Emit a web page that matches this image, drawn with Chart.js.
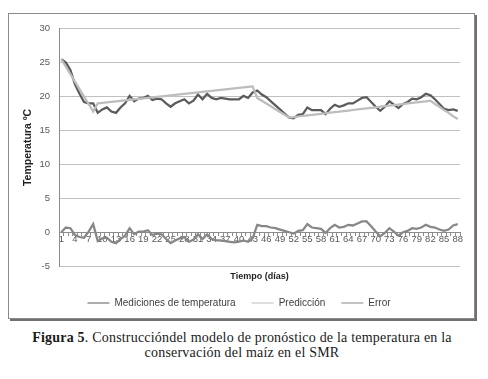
<!DOCTYPE html>
<html>
<head>
<meta charset="utf-8">
<script src="https://cdn.jsdelivr.net/npm/chart.js@4"></script>
<style>
  body { margin: 0; background: #fff; width: 488px; height: 379px; position: relative; overflow: hidden; }
  #box { position: absolute; left: 8px; top: 13px; width: 465px; height: 304px; border: 1px solid #8a8a8a; box-shadow: 2px 2px 0 #707070; background: #fff; }
  #caption { position: absolute; left: 0; top: 330px; width: 484px; text-align: center; font-family: "Liberation Serif", serif; font-size: 14px; letter-spacing: 0.2px; line-height: 15px; color: #1a1a1a; }
</style>
</head>
<body>
<div id="box"><canvas id="grafico" width="465" height="304"></canvas></div>
<div id="caption"><b>Figura 5</b>. Construccióndel modelo de pronóstico de la temperatura en la<br>conservación del maíz en el SMR</div>
<script>
// dias (eje x)
const dias = [1, 2, 3, 4, 5, 6, 7, 8, 9, 10, 11, 12, 13, 14, 15, 16, 17, 18, 19, 20, 21, 22,
  23, 24, 25, 26, 27, 28, 29, 30, 31, 32, 33, 34, 35, 36, 37, 38, 39, 40, 41, 42, 43, 44,
  45, 46, 47, 48, 49, 50, 51, 52, 53, 54, 55, 56, 57, 58, 59, 60, 61, 62, 63, 64, 65, 66,
  67, 68, 69, 70, 71, 72, 73, 74, 75, 76, 77, 78, 79, 80, 81, 82, 83, 84, 85, 86, 87, 88];

const mediciones = [
  25.5, 25.0, 23.9, 21.8, 20.4, 19.2, 19.0, 19.0, 17.6, 18.1,
  18.4, 17.8, 17.6, 18.4, 19.0, 20.1, 19.3, 19.7, 19.8, 20.1,
  19.5, 19.7, 19.6, 19.0, 18.5, 19.0, 19.3, 19.6, 19.0, 19.4,
  20.3, 19.6, 20.4, 19.8, 19.6, 19.8, 19.7, 19.6, 19.6, 19.6,
  20.1, 19.8, 20.6, 20.9, 20.3, 19.9, 19.3, 18.7, 18.1, 17.5,
  16.9, 16.8, 17.3, 17.4, 18.4, 18.0, 18.0, 18.0, 17.4, 18.2,
  18.8, 18.5, 18.7, 19.0, 19.0, 19.4, 19.8, 19.9, 19.2, 18.5,
  17.9, 18.5, 19.3, 18.8, 18.3, 18.9, 19.2, 19.7, 19.6, 19.9,
  20.4, 20.2, 19.6, 18.9, 18.2, 18.0, 18.1, 17.9
];

const prediccion = [
  25.5, 24.4, 23.3, 22.2, 21.1, 20.0, 18.9, 17.8, 19.00, 19.07,
  19.15, 19.22, 19.29, 19.37, 19.44, 19.51, 19.59, 19.66, 19.74, 19.81,
  19.88, 19.96, 20.03, 20.10, 20.18, 20.25, 20.32, 20.40, 20.47, 20.54,
  20.62, 20.69, 20.76, 20.84, 20.91, 20.99, 21.06, 21.13, 21.21, 21.28,
  21.35, 21.43, 21.50, 19.80, 19.39, 18.97, 18.56, 18.14, 17.73, 17.31,
  16.90, 16.98, 17.06, 17.14, 17.22, 17.30, 17.38, 17.46, 17.54, 17.62,
  17.70, 17.78, 17.86, 17.94, 18.02, 18.10, 18.18, 18.26, 18.34, 18.42,
  18.50, 18.58, 18.66, 18.74, 18.82, 18.90, 18.98, 19.06, 19.14, 19.22,
  19.30, 19.40, 18.90, 18.50, 18.00, 17.60, 17.10, 16.70
];

const error = [
  0.0, 0.7, 0.6, -0.4, -0.7, -0.8, 0.1, 1.2, -1.3, -0.9,
  -0.8, -1.4, -1.6, -1.0, -0.5, 0.6, -0.3, 0.1, 0.1, 0.3,
  -0.4, -0.2, -0.3, -1.0, -1.6, -1.2, -0.9, -0.7, -1.4, -1.1,
  -0.3, -1.0, -0.3, -1.0, -1.2, -1.2, -1.3, -1.4, -1.5, -1.4,
  -1.2, -1.4, -0.9, 1.1, 0.9, 0.9, 0.7, 0.6, 0.4, 0.2,
  0.0, -0.2, 0.2, 0.3, 1.2, 0.7, 0.6, 0.5, -0.1, 0.6,
  1.1, 0.7, 0.8, 1.1, 1.0, 1.3, 1.6, 1.6, 0.9, 0.1,
  -0.6, -0.1, 0.6, 0.1, -0.5, 0.0, 0.2, 0.6, 0.5, 0.7,
  1.1, 0.8, 0.7, 0.4, 0.2, 0.4, 1.0, 1.2
];

const fuente = 'Liberation Sans';
const grisTexto = '#595959';

const ctx = document.getElementById('grafico');
new Chart(ctx, {
  type: 'line',
  data: {
    labels: dias,
    datasets: [
      { label: 'Mediciones de temperatura', data: mediciones, borderColor: '#5b5b5b', backgroundColor: '#5b5b5b', order: 3 },
      { label: 'Predicción', data: prediccion, borderColor: '#bdbdbd', backgroundColor: '#bdbdbd', order: 2 },
      { label: 'Error', data: error, borderColor: '#878787', backgroundColor: '#878787', order: 1 }
    ]
  },
  options: {
    responsive: false,
    animation: false,
    layout: { padding: { left: 9, right: 14, top: 8, bottom: 0 } },
    elements: {
      point: { radius: 0 },
      line: { borderWidth: 2.25, tension: 0 }
    },
    scales: {
      x: {
        position: { y: 0 }, // eje horizontal cruza en 0
        offset: true,
        grid: { drawOnChartArea: false, drawTicks: true, tickLength: 3, color: '#8c8c8c', offset: true },
        border: { color: '#8c8c8c' },
        ticks: {
          autoSkip: false,
          maxRotation: 0,
          padding: -2,
          color: grisTexto,
          font: { family: fuente, size: 9.5 },
          callback: function (value, index) {
            return index % 3 === 0 ? this.getLabelForValue(value) : '';
          }
        }
      },
      y: {
        min: -5,
        max: 30,
        ticks: { stepSize: 5, padding: 9, color: grisTexto, font: { family: fuente, size: 9.5 } },
        grid: { color: '#c0c0c0', drawTicks: false },
        border: { color: '#8c8c8c' },
        title: {
          display: true,
          text: 'Temperatura ºC',
          color: '#1f1f1f',
          font: { family: fuente, size: 10.5, weight: 'bold' },
          padding: { top: 4, bottom: 4 }
        },
        afterFit: function (scale) { scale.width = 41; }
      }
    },
    plugins: {
      legend: {
        position: 'bottom',
        labels: {
          usePointStyle: true,
          pointStyle: 'line',
          pointStyleWidth: 22,
          padding: 16,
          color: '#404040',
          font: { family: fuente, size: 10 },
          sort: (a, b) => a.datasetIndex - b.datasetIndex
        }
      },
      title: {
        display: true,
        position: 'bottom',
        text: 'Tiempo (días)',
        fullSize: false,
        weight: 100,
        color: '#1f1f1f',
        font: { family: fuente, size: 9, weight: 'bold' },
        padding: { top: 5, bottom: 0 }
      },
      tooltip: { enabled: false }
    }
  }
});
</script>
</body>
</html>
